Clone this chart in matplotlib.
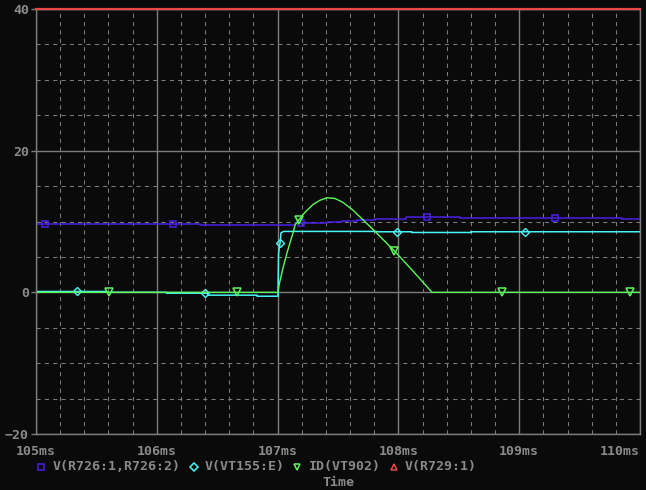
import numpy as np
import matplotlib
matplotlib.use('Agg')
import matplotlib.pyplot as plt
from matplotlib.lines import Line2D

# ---- data (time in ms) ----
purple_t = [105.0, 106.36, 107.14, 107.28, 107.41, 107.53, 107.66, 107.81, 108.06, 108.51, 109.85, 110.0]
purple_v = [9.7, 9.55, 9.75, 9.8, 10.0, 10.1, 10.25, 10.4, 10.6, 10.45, 10.3, 10.3]
purple_marks = [105.075, 106.134, 107.194, 108.237, 109.296]

cyan_t = [105.0, 105.58, 105.58, 106.08, 106.08, 106.42, 106.42, 106.83, 106.83, 107.003,
          107.008, 107.022, 107.028, 107.05, 107.82, 107.82, 108.11, 108.11, 108.6, 108.6, 110.0]
cyan_v = [0.12, 0.12, 0.0, 0.0, -0.12, -0.12, -0.4, -0.4, -0.55, -0.55,
          5.5, 7.2, 8.4, 8.6, 8.6, 8.55, 8.55, 8.45, 8.45, 8.55, 8.55]
cyan_marks = [105.339, 106.399, 107.020, 107.988, 109.048]

green_t = [105.0, 107.003, 107.014, 107.047, 107.080, 107.108, 107.130, 107.144, 107.177, 107.227,
           107.293, 107.351, 107.409, 107.475, 107.541, 107.624, 107.715, 107.806, 107.964,
           108.121, 108.278, 110.0]
green_v = [0.0, 0.0, 1.2, 3.6, 5.7, 7.3, 8.5, 9.5, 10.25, 11.3,
           12.4, 13.0, 13.35, 13.25, 12.7, 11.6, 10.1, 8.6, 5.9,
           3.0, 0.0, 0.0]
green_marks = [105.604, 106.664, 107.177, 107.964, 108.858, 109.917]

red_t = [105.0, 110.0]
red_v = [40.0, 40.0]

x_ticks = [105, 106, 107, 108, 109, 110]
x_labels = ['105ms', '106ms', '107ms', '108ms', '109ms', '110ms']
y_ticks = [-20, 0, 20, 40]
legend_labels = ['V(R726:1,R726:2)', 'V(VT155:E)', 'ID(VT902)', 'V(R729:1)']

# ---- style ----
bg = '#0a0a0a'
grid_c = '#7c7c7c'
text_c = '#8a8a8a'
c_purple = '#4a20e6'
c_cyan = '#48f4f4'
c_green = '#5cf85c'
c_red = '#e84848'
mono = 'DejaVu Sans Mono'

W, H = 646, 490
fig = plt.figure(figsize=(W / 100, H / 100), dpi=100, facecolor=bg)
ax = fig.add_axes([36 / W, 1 - 434 / H, (640 - 36) / W, (434 - 9) / H], facecolor=bg)

ax.set_xlim(105, 110)
ax.set_ylim(-20, 40)

# grid
ax.set_xticks(x_ticks)
ax.set_xticklabels(x_labels)
ax.set_xticks(np.arange(105, 110.001, 0.2), minor=True)
ax.set_yticks(y_ticks)
ax.set_yticks(np.arange(-20, 40.001, 5), minor=True)
ax.grid(which='major', color=grid_c, lw=1.0, ls='-')
ax.grid(which='minor', color=grid_c, lw=0.75, ls=(0, (4, 4)))
ax.set_axisbelow(True)

for s in ax.spines.values():
    s.set_color(grid_c)
    s.set_linewidth(1.0)

ax.tick_params(axis='x', which='both', length=0, pad=8, colors=text_c, labelsize=9.5)
ax.tick_params(axis='y', which='major', length=3.6, width=1, pad=1.5, colors=grid_c,
               labelcolor=text_c, labelsize=9.5)
ax.tick_params(axis='y', which='minor', length=0)
for lab in ax.get_xticklabels() + ax.get_yticklabels():
    lab.set_fontfamily(mono)
    lab.set_fontweight('bold')
# last time label sits inside the right edge
ax.get_xticklabels()[-1].set_horizontalalignment('right')


def step_at(t, v, tm):
    idx = np.searchsorted(t, tm, side='right') - 1
    return np.asarray(v)[idx]


# traces
ax.plot(purple_t, purple_v, color=c_purple, lw=1.1, drawstyle='steps-post')
ax.plot(purple_marks, step_at(purple_t, purple_v, purple_marks), ls='none', marker='s',
        ms=4.5, mfc='none', mec=c_purple, mew=1.1)

ax.plot(cyan_t, cyan_v, color=c_cyan, lw=1.1)
ax.plot(cyan_marks, np.interp(cyan_marks, cyan_t, cyan_v), ls='none', marker='D',
        ms=4, mfc='none', mec=c_cyan, mew=1.0)

ax.plot(green_t, green_v, color=c_green, lw=1.0)
ax.plot(green_marks, np.interp(green_marks, green_t, green_v), ls='none', marker='v',
        ms=5.5, mfc='none', mec=c_green, mew=1.1)

ax.plot(red_t, red_v, color=c_red, lw=1.6, clip_on=False, zorder=5)

# legend row below the axis
leg_markers = [('s', c_purple, 41), ('D', c_cyan, 193.6), ('v', c_green, 296.7), ('^', c_red, 393.5)]
leg_text_x = [52.7, 204.8, 309, 405]
ly = 1 - 466.5 / H
for (m, c, mx), lab, tx in zip(leg_markers, legend_labels, leg_text_x):
    fig.add_artist(Line2D([mx / W], [ly], transform=fig.transFigure, marker=m, ls='none',
                          ms=4.5 if m != 'D' else 4, mfc='none', mec=c, mew=1.1))
    fig.text(tx / W, ly, lab, color=text_c, fontsize=9.5, fontfamily=mono,
             fontweight='bold', ha='left', va='center')

fig.text(338.7 / W, 1 - 482.5 / H, 'Time', color=text_c, fontsize=9.5, fontfamily=mono,
         fontweight='bold', ha='center', va='center')

fig.savefig('out.png', dpi=100, facecolor=bg)
